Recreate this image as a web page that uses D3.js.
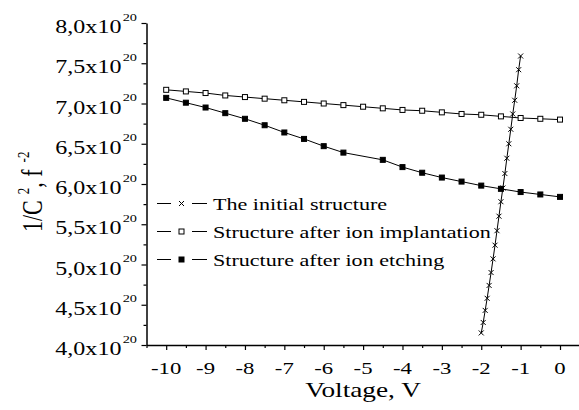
<!DOCTYPE html>
<meta charset="utf-8">
<html>
<head>
    <style>
        body { margin: 0; background: #fff; }
        svg text { font-family: 'Liberation Serif', 'Times New Roman', Times, 'DejaVu Serif', serif; fill: #000; }
        .series { fill: none; stroke: #000; stroke-width: 1px; }
        .axis path, .axis line { stroke: #000; }
    </style>
    <script src="https://d3js.org/d3.v7.min.js"></script>
</head>
<body>
<svg id="svg" width="579" height="410"></svg>
<script>

    // The initial structure (x marks)
    var initialV = [-2.00, -1.95, -1.90, -1.85, -1.80, -1.75, -1.70, -1.65, -1.60, -1.55, -1.50,
        -1.45, -1.40, -1.35, -1.30, -1.25, -1.20, -1.15, -1.10, -1.05, -1.00];
    var initialC = [4.15, 4.28, 4.43, 4.58, 4.74, 4.90, 5.07, 5.24, 5.42, 5.60, 5.78,
        5.95, 6.13, 6.32, 6.50, 6.68, 6.87, 7.04, 7.22, 7.42, 7.59];

    // Structure after ion implantation (open squares)
    var implV = [-10, -9.5, -9, -8.5, -8, -7.5, -7, -6.5, -6, -5.5, -5,
        -4.5, -4, -3.5, -3, -2.5, -2, -1.5, -1, -0.5, 0];
    var implC = [7.17, 7.15, 7.13, 7.10, 7.08, 7.06, 7.04, 7.02, 7.00, 6.98, 6.96,
        6.94, 6.92, 6.91, 6.89, 6.87, 6.86, 6.84, 6.82, 6.81, 6.80];

    // Structure after ion etching (filled squares)
    var etchV = [-10, -9.5, -9, -8.5, -8, -7.5, -7, -6.5, -6, -5.5,
        -4.5, -4, -3.5, -3, -2.5, -2, -1.5, -1, -0.5, 0];
    var etchC = [7.07, 7.01, 6.95, 6.88, 6.81, 6.73, 6.64, 6.56, 6.47, 6.39,
        6.30, 6.21, 6.14, 6.08, 6.03, 5.98, 5.94, 5.90, 5.87, 5.84];

    var xTicks = [-10, -9, -8, -7, -6, -5, -4, -3, -2, -1, 0];
    var yTicks = [4.0, 4.5, 5.0, 5.5, 6.0, 6.5, 7.0, 7.5, 8.0];
    var yTickLabels = ["4,0x10", "4,5x10", "5,0x10", "5,5x10", "6,0x10", "6,5x10", "7,0x10", "7,5x10", "8,0x10"];
    var legendNames = ["The initial structure", "Structure after ion implantation", "Structure after ion etching"];

    var FONT = "'Liberation Serif', 'Times New Roman', Times, serif";
    var svg = d3.select("svg");
    var margin = {left: 146.5, right: 0, top: 23, bottom: 65};
    var width = 579.7 - margin.left, height = 345 - margin.top;
    var SX = 1.3; // the original text is stretched horizontally

    var x = d3.scaleLinear().domain([-10.5, 0.5]).range([margin.left, margin.left + width]);
    var y = d3.scaleLinear().domain([4.0, 8.0]).range([margin.top + height, margin.top]);

    // axes
    svg.append("g").attr("class", "axis")
        .attr("transform", "translate(0," + y(4.0) + ")")
        .call(d3.axisBottom(x).tickValues(xTicks).tickSize(5).tickSizeOuter(0).tickFormat(""));
    svg.append("g").attr("class", "axis")
        .attr("transform", "translate(0," + y(4.0) + ")")
        .call(d3.axisBottom(x).tickValues(d3.range(-10.5, 0.6, 1)).tickSize(3).tickSizeOuter(0).tickFormat(""))
        .select(".domain").remove();
    svg.append("g").attr("class", "axis")
        .attr("transform", "translate(" + x(-10.5) + ",0)")
        .call(d3.axisLeft(y).tickValues(yTicks).tickSize(5).tickSizeOuter(0).tickFormat(""));
    svg.append("g").attr("class", "axis")
        .attr("transform", "translate(" + x(-10.5) + ",0)")
        .call(d3.axisLeft(y).tickValues(d3.range(4.25, 8.0, 0.5)).tickSize(3).tickSizeOuter(0).tickFormat(""))
        .select(".domain").remove();
    svg.selectAll(".axis .domain").attr("stroke-width", 1.5);
    svg.selectAll(".axis line").attr("stroke-width", 1.2);

    // x tick labels
    svg.selectAll(".xlab").data(xTicks).enter().append("text")
        .attr("class", "xlab")
        .attr("font-family", FONT)
        .attr("text-anchor", "middle")
        .attr("font-size", 17.5)
        .attr("transform", function (d) { return "translate(" + x(d) + "," + (y(4.0) + 28.5) + ") scale(" + SX + ",1)"; })
        .text(function (d) { return d; });

    // y tick labels with superscript
    var ylab = svg.selectAll(".ylab").data(yTicks).enter().append("text")
        .attr("class", "ylab")
        .attr("font-family", FONT)
        .attr("text-anchor", "end")
        .attr("font-size", 18.5)
        .attr("transform", function (d) { return "translate(137," + (y(d) + 10) + ") scale(" + SX + ",1)"; });
    ylab.append("tspan").text(function (d, i) { return yTickLabels[i]; });
    ylab.append("tspan").attr("font-size", 11).attr("dx", 1).attr("dy", -12.5).text("20");

    // axis titles
    svg.append("text")
        .attr("font-family", FONT)
        .attr("text-anchor", "middle")
        .attr("font-size", 21)
        .attr("transform", "translate(" + x(-5) + ",397) scale(" + SX + ",1)")
        .text("Voltage, V");

    var yt = svg.append("text")
        .attr("font-family", FONT)
        .attr("font-size", 22)
        .attr("transform", "translate(42,232) rotate(-90) scale(1," + SX + ")");
    yt.append("tspan").text("1/C");
    yt.append("tspan").attr("font-size", 13).attr("dx", 6).attr("dy", -10).text("2");
    yt.append("tspan").attr("dy", 10).text(", f");
    yt.append("tspan").attr("font-size", 13).attr("dx", 7).attr("dy", -10).text("-2");

    // series
    function pts(vs, cs) {
        return vs.map(function (v, i) { return [v, cs[i]]; });
    }
    var line = d3.line().x(function (d) { return x(d[0]); }).y(function (d) { return y(d[1]); });

    var seriesData = [pts(implV, implC), pts(etchV, etchC), pts(initialV, initialC)];
    var seriesKind = ["open", "filled", "cross"];

    function drawMarker(g, kind) {
        if (kind === "cross") {
            g.append("path").attr("d", "M-2.5,-2.5L2.5,2.5M-2.5,2.5L2.5,-2.5")
                .attr("stroke", "#000").attr("stroke-width", 1).attr("fill", "none");
        } else {
            g.append("rect").attr("x", -2.5).attr("y", -2.5).attr("width", 5).attr("height", 5)
                .attr("fill", kind === "filled" ? "#000" : "#fff")
                .attr("stroke", "#000").attr("stroke-width", 1);
        }
    }

    seriesData.forEach(function (data, k) {
        svg.append("path").datum(data).attr("class", "series").attr("d", line);
        svg.selectAll(".m" + k).data(data).enter().append("g")
            .attr("class", "m" + k)
            .attr("transform", function (d) { return "translate(" + x(d[0]) + "," + y(d[1]) + ")"; })
            .each(function () { drawMarker(d3.select(this), seriesKind[k]); });
    });

    // legend
    var legendKind = ["cross", "open", "filled"];
    var legend = svg.selectAll(".leg").data(legendNames).enter().append("g")
        .attr("class", "leg")
        .attr("transform", function (d, i) { return "translate(157," + (203.5 + i * 28) + ")"; });
    legend.append("line").attr("x1", 0).attr("x2", 14).attr("stroke", "#000");
    legend.append("line").attr("x1", 35).attr("x2", 50).attr("stroke", "#000");
    legend.each(function (d, i) {
        var m = d3.select(this).append("g").attr("transform", "translate(24.5,0)");
        drawMarker(m, legendKind[i]);
    });
    legend.append("text")
        .attr("font-family", FONT)
        .attr("font-size", 17)
        .attr("transform", "translate(56,6) scale(" + SX + ",1)")
        .text(function (d) { return d; });

</script>
</body>
</html>
